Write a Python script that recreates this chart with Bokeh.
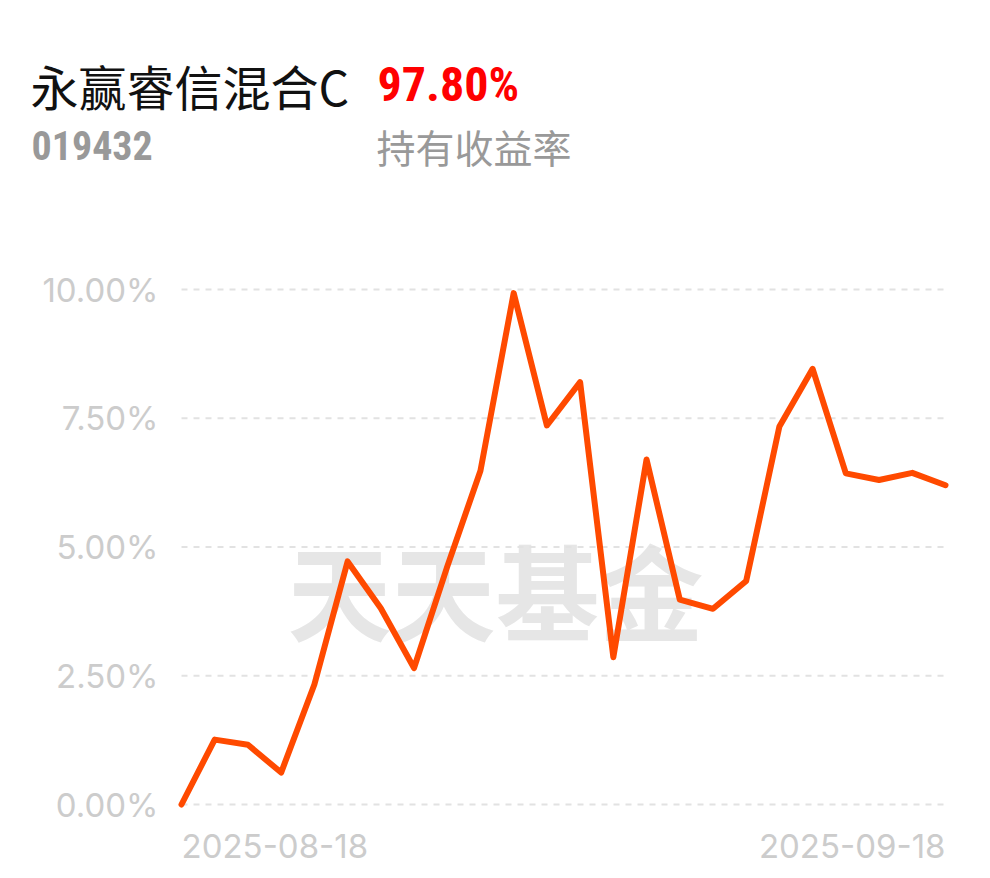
from bokeh.plotting import figure
from bokeh.models import Range1d, Label, ColumnDataSource
from bokeh.core.properties import value
from bokeh.embed import file_html
from bokeh.resources import INLINE

# ---- data ----
fund_name = "永赢睿信混合C"
fund_code = "019432"
hold_return = "97.80%"
hold_return_label = "持有收益率"
watermark = "天天基金"

dates = [
    "2025-08-18", "2025-08-19", "2025-08-20", "2025-08-21", "2025-08-22",
    "2025-08-25", "2025-08-26", "2025-08-27", "2025-08-28", "2025-08-29",
    "2025-09-01", "2025-09-02", "2025-09-03", "2025-09-04", "2025-09-05",
    "2025-09-08", "2025-09-09", "2025-09-10", "2025-09-11", "2025-09-12",
    "2025-09-15", "2025-09-16", "2025-09-17", "2025-09-18",
]
returns_pct = [
    0.00, 1.26, 1.16, 0.62, 2.33, 4.72, 3.81, 2.65, 4.62, 6.48,
    9.93, 7.36, 8.20, 2.86, 6.70, 3.98, 3.80, 4.34, 7.34, 8.46,
    6.43, 6.30, 6.44, 6.20,
]
y_ticks = [0, 2.5, 5, 7.5, 10]
y_tick_labels = ["0.00%", "2.50%", "5.00%", "7.50%", "10.00%"]
x_tick_labels = [dates[0], dates[-1]]

# ---- layout constants (page pixels) ----
W, H = 980, 872
DATA_L, DATA_R = 181, 945          # first / last date
Y0_PX, Y10_PX = 804, 289           # 0% and 10%
n = len(dates)
ppu_x = (DATA_R - DATA_L) / (n - 1)
ppu_y = (Y0_PX - Y10_PX) / 10.0

def px2x(px):
    return (px - DATA_L) / ppu_x

def px2y(py):
    return (Y0_PX - py) / ppu_y

p = figure(
    width=W, height=H, output_backend="svg", toolbar_location=None,
    x_range=Range1d(px2x(0), px2x(W)), y_range=Range1d(px2y(H), px2y(0)),
    x_axis_location=None, y_axis_location=None, min_border=0,
)
p.outline_line_color = None
p.grid.grid_line_color = None
p.background_fill_color = "white"
p.border_fill_color = "white"

# watermark
p.add_layout(Label(
    x=px2x(495), y=px2y(588), text=watermark, text_align="center",
    text_baseline="middle", text_font="Noto Sans CJK SC", text_font_style="bold",
    text_font_size="104px", text_color="#e6e6e6", level="underlay",
))

# horizontal dashed grid lines at y ticks, spanning the date range
grid_src = ColumnDataSource(dict(
    x0=[0] * len(y_ticks), x1=[n - 1] * len(y_ticks), y=y_ticks,
    lx=[px2x(158)] * len(y_ticks), label=y_tick_labels,
))
p.segment(x0="x0", x1="x1", y0="y", y1="y", source=grid_src,
          line_color="#e2e2e2", line_width=2, line_dash="6 6")
p.text(x="lx", y="y", text="label", source=grid_src, text_align="right",
       text_baseline="middle", text_font=value("Inter"),
       text_font_size="33px", text_color="#cccccc")

# the series
src = ColumnDataSource(dict(x=list(range(n)), y=returns_pct, date=dates))
p.line("x", "y", source=src, line_width=6, line_color="#FF4A00",
       line_join="round", line_cap="round")

# x tick labels (first / last date)
p.add_layout(Label(x=0, y=px2y(845), text=x_tick_labels[0], text_align="left",
                   text_baseline="middle", text_font="Inter",
                   text_font_size="33px", text_color="#cccccc"))
p.add_layout(Label(x=n - 1, y=px2y(845), text=x_tick_labels[1], text_align="right",
                   text_baseline="middle", text_font="Inter",
                   text_font_size="33px", text_color="#cccccc"))

# header
p.add_layout(Label(x=px2x(30), y=px2y(84), text=fund_name, text_align="left",
                   text_baseline="middle", text_font="Noto Sans CJK SC",
                   text_font_size="48px", text_color="#111111"))
p.add_layout(Label(x=px2x(377), y=px2y(84), text=hold_return, text_align="left",
                   text_baseline="middle",
                   text_font="'Liberation Sans Narrow', 'Roboto Condensed', Roboto",
                   text_font_style="bold", text_font_size="48px",
                   text_color="#ff0000"))
p.add_layout(Label(x=px2x(31), y=px2y(145), text=fund_code, text_align="left",
                   text_baseline="middle",
                   text_font="'Liberation Sans Narrow', 'Roboto Condensed', Roboto",
                   text_font_style="bold", text_font_size="40px",
                   text_color="#999999"))
p.add_layout(Label(x=px2x(376), y=px2y(145), text=hold_return_label,
                   text_align="left", text_baseline="middle",
                   text_font="Noto Sans CJK SC", text_font_size="39px",
                   text_color="#999999"))

open("out.html", "w").write(file_html(p, INLINE))
